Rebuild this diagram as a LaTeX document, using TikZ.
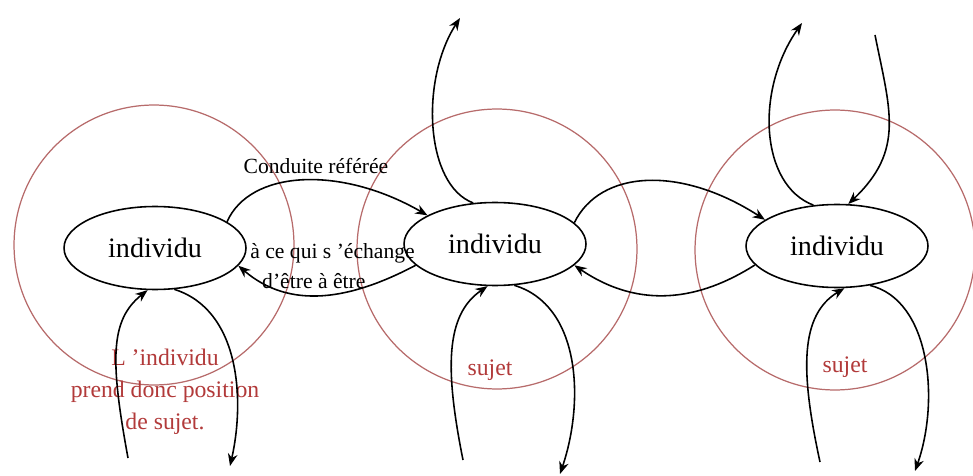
\documentclass[tikz,border=0pt]{standalone}
\usepackage{fontspec}
\setmainfont{Liberation Serif}
\usetikzlibrary{shapes,arrows,arrows.meta,positioning,calc}
\definecolor{cercleRouge}{HTML}{B76B6B}
\definecolor{texteRouge}{HTML}{B23A3A}

\begin{document}
\begin{tikzpicture}[
            x=0.02cm, y=-0.02cm,
            ind/.style={
                    ellipse,
                    draw=black,
                    line width=0.9pt,
                    minimum width=3.64cm,
                    minimum height=1.66cm,
                    inner sep=0pt,
                    font=\fontsize{16}{19}\selectfont
                },
            cercle/.style={
                    circle,
                    draw=cercleRouge,
                    line width=0.7pt,
                    minimum size=5.6cm,
                    inner sep=0pt
                },
            rouge/.style={text=texteRouge, align=center, font=\fontsize{13.5}{18.2}\selectfont},
            legende/.style={align=left, inner sep=0pt, font=\fontsize{12.3}{17.4}\selectfont},
            arrow/.style={->, >={Stealth[length=7pt,width=5.5pt]}, line width=0.9pt}
        ]
        \path[use as bounding box, fill=white] (0,0) rectangle (973,476);

        \node[cercle] (cercle1) at (154,245) {};
        \node[cercle] (cercle2) at (497,249) {};
        \node[cercle] (cercle3) at (835,250) {};

        \node[ind] (ind1) at (155,248) {individu};
        \node[ind] (ind2) at (495,244) {individu};
        \node[ind] (ind3) at (837,246) {individu};

        \node[legende] (conduite) at (316,166) {Conduite référée};
        \node[legende, anchor=west] (echange) at (250,266) {à ce qui s ’échange\\\hspace{0.55em}d’être à être};
        \node[rouge] (prise) at (165,392) {L ’individu\\prend donc position\\de sujet.};
        \node[rouge] (sujet2) at (490,370) {sujet};
        \node[rouge] (sujet3) at (845,367) {sujet};

        \coordinate (haut2) at (460,18);
        \coordinate (haut3a) at (802,23);
        \coordinate (haut3b) at (875,35);
        \coordinate (bas1a) at (128,458);
        \coordinate (bas1b) at (230,466);
        \coordinate (bas2a) at (463,460);
        \coordinate (bas2b) at (560,474);
        \coordinate (bas3a) at (820,462);
        \coordinate (bas3b) at (915,471);

        \draw[arrow] (ind1.20) .. controls (250,170) and (340,165) .. (ind2.157);
        \draw[arrow] (ind2.195) .. controls (350,300) and (290,310) .. (ind1.-12);
        \draw[arrow] (ind2.15) .. controls (600,170) and (680,165) .. (ind3.160);
        \draw[arrow] (ind3.193) .. controls (700,300) and (640,310) .. (ind2.-15);

        \draw[arrow] (ind2.118) .. controls (425,185) and (420,80) .. (haut2);
        \draw[arrow] (ind3.120) .. controls (760,185) and (755,90) .. (haut3a);
        \draw[arrow] (haut3b) .. controls (890,110) and (905,150) .. (ind3.75);

        \draw[arrow] (bas1a) .. controls (110,360) and (110,320) .. (ind1.-100);
        \draw[arrow] (ind1.-65) .. controls (240,310) and (245,400) .. (bas1b);
        \draw[arrow] (bas2a) .. controls (445,370) and (445,315) .. (ind2.-100);
        \draw[arrow] (ind2.-65) .. controls (580,305) and (585,400) .. (bas2b);
        \draw[arrow] (bas3a) .. controls (800,370) and (800,315) .. (ind3.-80);
        \draw[arrow] (ind3.-50) .. controls (930,300) and (940,400) .. (bas3b);
    \end{tikzpicture}
\end{document}
